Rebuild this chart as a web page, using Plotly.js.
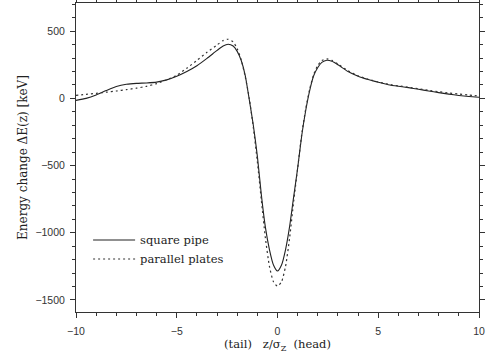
<!DOCTYPE html>
<html>
<head>
<meta charset="utf-8">
<script src="https://cdn.plot.ly/plotly-3.0.1.min.js"></script>
<style>html,body{margin:0;padding:0;background:#fff;}#chart{width:491px;height:361px;}</style>
</head>
<body>
<div id="chart"></div>
<script>
// z / sigma_z sample positions
const zSquare = [-10,-9.5,-9,-8.5,-8,-7.5,-7,-6.5,-6,-5.5,-5,-4.5,-4,-3.5,-3,-2.7,-2.45,-2.2,-2.0,-1.8,-1.6,-1.4,-1.2,-1.0,-0.8,-0.6,-0.4,-0.2,0,0.2,0.4,0.6,0.8,1.0,1.2,1.4,1.6,1.8,2.0,2.2,2.45,2.7,3.0,3.5,4.0,4.5,5.0,5.5,6.0,6.5,7.0,7.5,8.0,8.5,9.0,9.5,10];
const eSquare = [-15,0,25,58,88,105,112,115,121,138,165,200,243,298,357,390,403,390,350,282,170,-10,-200,-430,-720,-960,-1125,-1240,-1285,-1240,-1125,-955,-735,-520,-280,-90,60,170,230,268,284,276,250,200,165,140,120,102,90,80,68,55,43,32,22,14,8];

const zPlates = [-10,-9.5,-9,-8.5,-8,-7.5,-7,-6.5,-6,-5.5,-5,-4.5,-4,-3.5,-3,-2.7,-2.45,-2.2,-2.0,-1.8,-1.6,-1.4,-1.2,-1.0,-0.8,-0.6,-0.4,-0.2,0,0.2,0.4,0.6,0.8,1.0,1.2,1.4,1.6,1.8,2.0,2.2,2.45,2.7,3.0,3.5,4.0,4.5,5.0,5.5,6.0,6.5,7.0,7.5,8.0,8.5,9.0,9.5,10];
const ePlates = [22,30,38,46,55,65,76,90,110,138,172,225,283,343,398,430,440,420,370,287,160,0,-215,-470,-760,-1040,-1250,-1365,-1398,-1365,-1250,-1040,-770,-520,-270,-80,70,180,245,282,294,283,256,206,168,142,122,105,93,83,72,60,50,40,32,25,18];

const seriesNames = ["square pipe", "parallel plates"];
const xTickVals = [-10, -5, 0, 5, 10];
const yTickVals = [-1500, -1000, -500, 0, 500];

const serif = "DejaVu Serif, serif";
const sans = "Liberation Sans, Arial, sans-serif";

const traces = [
  {x: zSquare, y: eSquare, name: seriesNames[0], type: "scatter", mode: "lines",
   line: {color: "#222", width: 1.1, shape: "spline", smoothing: 0.6}},
  {x: zPlates, y: ePlates, name: seriesNames[1], type: "scatter", mode: "lines",
   line: {color: "#333", width: 1.2, dash: "2px,3px", shape: "spline", smoothing: 0.6}}
];

const axisCommon = {
  showgrid: false, zeroline: false, showline: true, linecolor: "#333", linewidth: 1,
  mirror: "allticks", ticks: "outside", ticklen: 5, tickwidth: 1, tickcolor: "#333",
  tickfont: {family: sans, size: 10.5, color: "#333"}
};

const layout = {
  width: 491, height: 361,
  margin: {l: 76, r: 12, t: 3, b: 49},
  paper_bgcolor: "#fff", plot_bgcolor: "#fff",
  showlegend: true,
  legend: {x: 0.03, y: 0.28, xanchor: "left", yanchor: "top", bgcolor: "rgba(0,0,0,0)",
           font: {family: serif, size: 11.5, color: "#222"}, itemwidth: 42, tracegroupgap: 0},
  xaxis: Object.assign({}, axisCommon, {
    range: [-10, 10], tickvals: xTickVals, ticklabelstandoff: 4,
    minor: {dtick: 1, ticks: "outside", ticklen: 3, tickcolor: "#333"},
    title: {text: "(tail)\u00a0\u00a0\u00a0z/σ<sub>Z</sub>\u00a0\u00a0(head)", font: {family: serif, size: 11.5, color: "#222"}, standoff: 4}
  }),
  yaxis: Object.assign({}, axisCommon, {
    range: [-1590, 710], tickvals: yTickVals, ticklabelstandoff: 3,
    minor: {dtick: 100, ticks: "outside", ticklen: 3, tickcolor: "#333"},
    title: {text: "Energy change ΔE(z) [keV]", font: {family: serif, size: 12, color: "#222"}, standoff: 5}
  })
};

Plotly.newPlot("chart", traces, layout, {staticPlot: true, displayModeBar: false});
</script>
</body>
</html>
